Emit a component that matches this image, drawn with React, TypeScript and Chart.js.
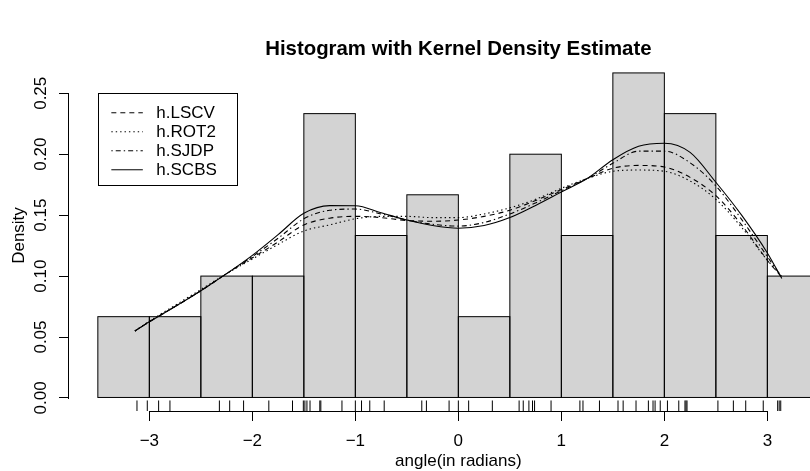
import React, { useEffect, useRef } from "react";
import { Chart, registerables } from "chart.js";

Chart.register(...registerables);

// ---- data ----
const BIN_EDGES = [-3.5, -3, -2.5, -2, -1.5, -1, -0.5, 0, 0.5, 1, 1.5, 2, 2.5, 3, 3.5];
const DENSITY = [0.0667, 0.0667, 0.1, 0.1, 0.2333, 0.1333, 0.1667, 0.0667, 0.2, 0.1333, 0.2667, 0.2333, 0.1333, 0.1];

const KDE_X = [-3.14, -3.0, -2.75, -2.5, -2.25, -2.0, -1.75, -1.5, -1.25, -1.0, -0.75, -0.5, -0.25, 0, 0.25, 0.5, 0.75, 1.0, 1.25, 1.5, 1.75, 2.0, 2.25, 2.5, 2.75, 3.0, 3.14];
const H_LSCV = [0.055, 0.0625, 0.075, 0.088, 0.102, 0.115, 0.128, 0.142, 0.1475, 0.149, 0.148, 0.1456, 0.145, 0.146, 0.149, 0.154, 0.162, 0.171, 0.180, 0.1885, 0.1908, 0.1895, 0.181, 0.166, 0.142, 0.113, 0.099];
const H_ROT2 = [0.055, 0.063, 0.076, 0.089, 0.102, 0.114, 0.126, 0.137, 0.142, 0.147, 0.149, 0.149, 0.148, 0.148, 0.151, 0.156, 0.163, 0.172, 0.180, 0.186, 0.187, 0.186, 0.178, 0.163, 0.140, 0.113, 0.100];
const H_SJDP = [0.055, 0.0625, 0.075, 0.088, 0.102, 0.116, 0.131, 0.147, 0.154, 0.155, 0.151, 0.146, 0.1425, 0.141, 0.144, 0.151, 0.160, 0.170, 0.180, 0.1925, 0.2025, 0.2025, 0.193, 0.174, 0.1465, 0.116, 0.099];
const H_SCBS = [0.055, 0.0625, 0.075, 0.088, 0.102, 0.117, 0.134, 0.1515, 0.1578, 0.1577, 0.152, 0.146, 0.1415, 0.1393, 0.1415, 0.148, 0.158, 0.169, 0.180, 0.1955, 0.2065, 0.209, 0.2015, 0.177, 0.150, 0.119, 0.098];

const RUG = [-3.12, -3.02, -2.91, -2.8, -2.32, -2.22, -2.085, -1.84, -1.61, -1.505, -1.49, -1.47, -1.44, -1.345, -1.335, -1.13, -1.0, -0.94, -0.86, -0.72, -0.355, -0.31, -0.09, 0.0, 0.1, 0.33, 0.59, 0.63, 0.685, 0.72, 0.74, 0.9, 1.18, 1.21, 1.37, 1.55, 1.6, 1.725, 1.845, 1.89, 1.91, 1.96, 2.03, 2.14, 2.2, 2.21, 2.22, 2.52, 2.67, 2.79, 2.96, 3.1, 3.115, 3.13];

const X_TICKS = [-3, -2, -1, 0, 1, 2, 3];
const Y_TICKS = [0, 0.05, 0.1, 0.15, 0.2, 0.25];
const LEGEND_LABELS = ["h.LSCV", "h.ROT2", "h.SJDP", "h.SCBS"];

const TITLE = "Histogram with Kernel Density Estimate";
const X_LABEL = "angle(in radians)";
const Y_LABEL = "Density";

// ---- styles ----
const FONT = "'Liberation Sans', Arial, Helvetica, sans-serif";
const DASHES = [[5, 4], [1.4, 3], [1.4, 3, 5, 3], []];
const W = 810;
const H = 471;

const xy = (xs: number[], ys: number[]) => xs.map((x, i) => ({ x, y: ys[i] }));

const rPlugin = {
  id: "rstyle",
  afterDatasetDraw(chart: any, args: any) {
    if (args.index !== 0) return;
    const ctx = chart.ctx;
    const area = chart.chartArea;
    ctx.save();
    ctx.beginPath();
    ctx.rect(area.left, area.top, area.right - area.left, area.bottom - area.top);
    ctx.clip();
    ctx.strokeStyle = "#000";
    ctx.lineWidth = 1;
    for (const el of args.meta.data) {
      const half = el.width / 2;
      const top = Math.min(el.y, el.base);
      const h = Math.abs(el.base - el.y);
      ctx.strokeRect(el.x - half, top, el.width, h);
    }
    ctx.restore();
  },
  afterDraw(chart: any) {
    const ctx = chart.ctx;
    const area = chart.chartArea;
    const xs = chart.scales.x;
    const ys = chart.scales.y;
    ctx.save();
    ctx.setLineDash([]);
    ctx.strokeStyle = "#000";
    ctx.fillStyle = "#000";
    ctx.lineWidth = 1;

    // rug
    const rugLen = 0.03 * (area.bottom - area.top);
    ctx.beginPath();
    for (const v of RUG) {
      const px = xs.getPixelForValue(v);
      ctx.moveTo(px, area.bottom);
      ctx.lineTo(px, area.bottom - rugLen);
    }
    ctx.stroke();

    // axis lines (R style, spanning first to last tick)
    const bx0 = Math.round(xs.getPixelForValue(X_TICKS[0]));
    const bx1 = Math.round(xs.getPixelForValue(X_TICKS[X_TICKS.length - 1]));
    ctx.fillRect(bx0, Math.round(area.bottom), bx1 - bx0 + 1, 1);
    const ly0p = Math.round(ys.getPixelForValue(Y_TICKS[Y_TICKS.length - 1]));
    const ly1p = Math.round(ys.getPixelForValue(Y_TICKS[0]));
    ctx.fillRect(Math.round(area.left) - 1, ly0p, 1, ly1p - ly0p + 1);

    // y tick labels (rotated)
    ctx.font = `17px ${FONT}`;
    ctx.textAlign = "center";
    ctx.textBaseline = "alphabetic";
    for (const v of Y_TICKS) {
      const py = ys.getPixelForValue(v);
      ctx.save();
      ctx.translate(45.5, py);
      ctx.rotate(-Math.PI / 2);
      ctx.fillText(v.toFixed(2), 0, 0);
      ctx.restore();
    }

    // y axis title
    ctx.save();
    ctx.translate(24, (area.top + area.bottom) / 2);
    ctx.rotate(-Math.PI / 2);
    ctx.fillText(Y_LABEL, 0, 0);
    ctx.restore();

    const cx = xs.getPixelForValue(0);
    // x axis title
    ctx.fillText(X_LABEL, cx, 466);

    // main title
    ctx.font = `bold 20.4px ${FONT}`;
    ctx.fillText(TITLE, cx, 55);

    // legend
    const lx0 = xs.getPixelForValue(BIN_EDGES[0]);
    const ly0 = ys.getPixelForValue(0.25);
    ctx.lineWidth = 1;
    ctx.strokeRect(Math.round(lx0) + 0.5, Math.round(ly0) + 0.5, 139, 92);
    ctx.font = `17px ${FONT}`;
    ctx.textAlign = "left";
    ctx.textBaseline = "middle";
    LEGEND_LABELS.forEach((lab, i) => {
      const ry = ly0 + 19.5 + 19 * i;
      ctx.setLineDash(DASHES[i]);
      ctx.beginPath();
      ctx.moveTo(lx0 + 13.5, ry);
      ctx.lineTo(lx0 + 45, ry);
      ctx.stroke();
      ctx.setLineDash([]);
      ctx.fillText(lab, lx0 + 58.5, ry + 0.5);
    });
    ctx.restore();
  },
};

export default function App() {
  const ref = useRef<HTMLCanvasElement | null>(null);

  useEffect(() => {
    document.body.style.margin = "0";
    const canvas = ref.current;
    if (!canvas) return;

    const bars = DENSITY.map((d, i) => ({ x: (BIN_EDGES[i] + BIN_EDGES[i + 1]) / 2, y: d }));
    const series = [H_LSCV, H_ROT2, H_SJDP, H_SCBS];

    const chart = new Chart(canvas, {
      data: {
        datasets: [
          {
            type: "bar",
            label: "hist",
            data: bars,
            backgroundColor: "#D3D3D3",
            borderWidth: 0,
            barPercentage: 1,
            categoryPercentage: 1,
            inflateAmount: 0,
            order: 10,
          } as any,
          ...series.map((s, i) => ({
            type: "line",
            label: LEGEND_LABELS[i],
            data: xy(KDE_X, s),
            borderColor: "#000",
            borderWidth: 1.1,
            borderDash: DASHES[i],
            pointRadius: 0,
            fill: false,
            cubicInterpolationMode: "monotone",
            order: 1,
          } as any)),
        ],
      },
      options: {
        responsive: false,
        animation: false,
        events: [],
        layout: { padding: { top: 60, left: 0, right: 0, bottom: 0 } },
        plugins: {
          legend: { display: false },
          title: { display: false },
          tooltip: { enabled: false },
        },
        scales: {
          x: {
            type: "linear",
            position: "bottom",
            offset: false,
            min: -3.78,
            max: 3.414,
            afterBuildTicks: (s: any) => {
              s.ticks = X_TICKS.map((v) => ({ value: v }));
            },
            afterFit: (s: any) => {
              s.height = 60;
            },
            ticks: {
              autoSkip: false,
              maxRotation: 0,
              padding: 10,
              color: "#000",
              font: { family: FONT, size: 17 },
              callback: (v: any) => (Number(v) < 0 ? "\u2212" + Math.abs(Number(v)) : String(v)),
            },
            grid: { offset: false, drawOnChartArea: false, drawTicks: true, tickLength: 10, color: "#000", lineWidth: 1 },
            border: { display: false },
          },
          y: {
            type: "linear",
            position: "left",
            min: -0.0107,
            max: 0.2773,
            afterBuildTicks: (s: any) => {
              s.ticks = Y_TICKS.map((v) => ({ value: v }));
            },
            afterFit: (s: any) => {
              s.width = 69;
            },
            ticks: { display: false },
            grid: { drawOnChartArea: false, drawTicks: true, tickLength: 10, color: "#000", lineWidth: 1 },
            border: { display: false },
          },
        },
      } as any,
      plugins: [rPlugin],
    });

    return () => chart.destroy();
  }, []);

  return (
    <div style={{ position: "absolute", left: 0, top: 0, width: W, height: H, background: "#fff" }}>
      <canvas ref={ref} width={W} height={H} style={{ display: "block", width: W, height: H }} />
    </div>
  );
}
